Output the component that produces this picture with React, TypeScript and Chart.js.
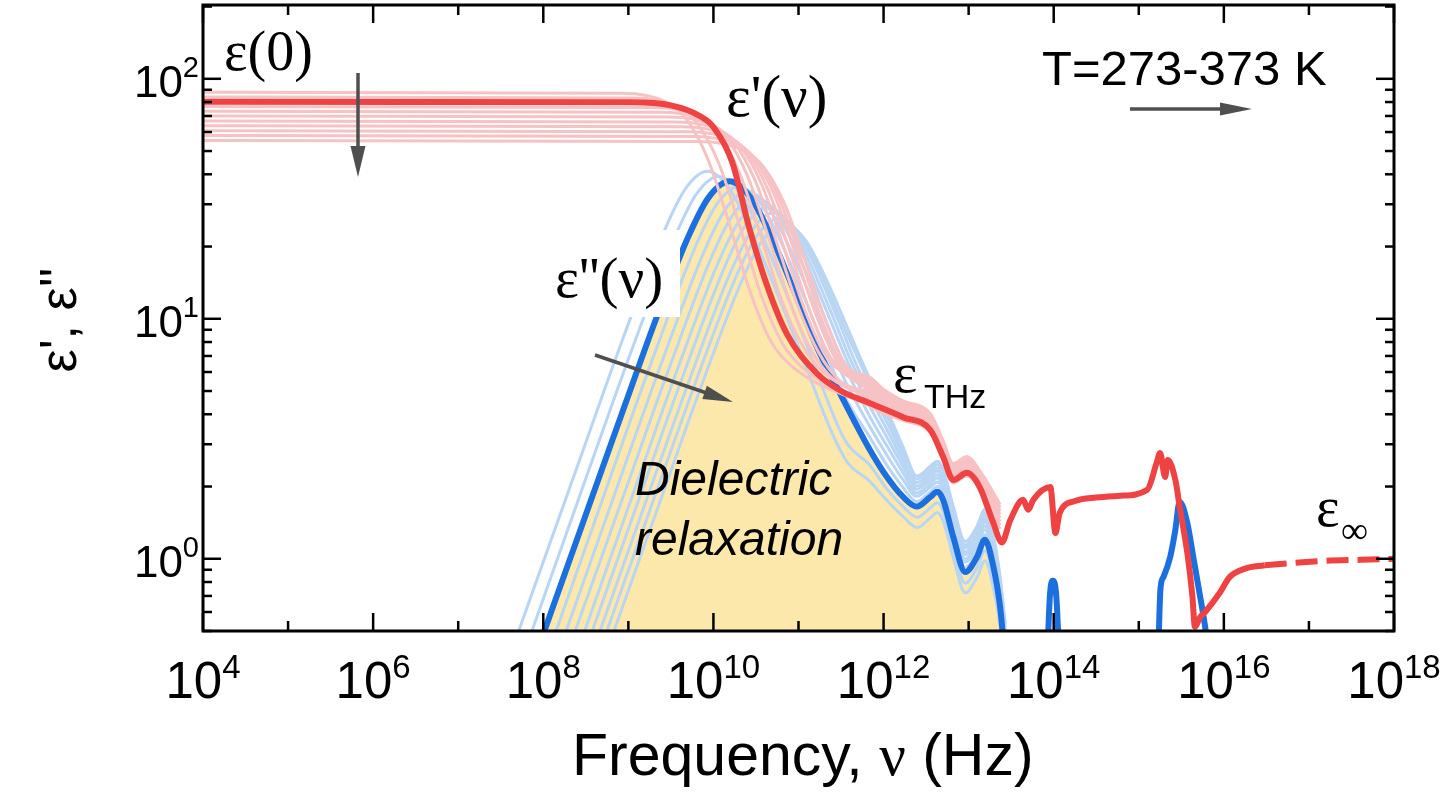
import React, { useEffect, useRef } from "react";
import { Chart, registerables } from "chart.js";

Chart.register(...registerables);

// every point: [log10(frequency / Hz), permittivity]
type Pt = [number, number];

// ---- highlighted temperature: eps' (bold red) ----
const epsRealBold: Pt[] = [
  [4, 80.2], [9.0, 79.8], [9.5, 77.5], [9.84, 70], [10.0, 63], [10.22, 45], [10.42, 24],
  [10.62, 14.1], [10.86, 8.7], [11.22, 5.9], [11.5, 5.0], [11.84, 4.45], [12.23, 3.89],
  [12.55, 3.44], [12.70, 2.66], [12.82, 2.13], [12.98, 2.28], [13.13, 1.99], [13.29, 1.41],
  [13.39, 1.17], [13.49, 1.45], [13.64, 1.76], [13.70, 1.60], [13.76, 1.76], [13.96, 1.99],
  [14.02, 1.28], [14.07, 1.55], [14.25, 1.74], [14.50, 1.80], [14.78, 1.83], [15.10, 1.94],
  [15.21, 2.51], [15.25, 2.76], [15.31, 2.19], [15.34, 2.58], [15.43, 2.13], [15.48, 1.65],
  [15.57, 1.06], [15.63, 0.70], [15.66, 0.52], [15.72, 0.57], [15.78, 0.60], [15.95, 0.72],
  [16.07, 0.84], [16.25, 0.91], [16.48, 0.94],
];
// eps_infinity extrapolation (dashed)
const epsRealInf: Pt[] = [[16.48, 0.94], [16.8, 0.96], [17.2, 0.98], [17.6, 0.99], [18, 1.0]];

// ---- highlighted temperature: eps'' (bold blue) ----
const epsImagBold: Pt[] = [
  [7.79, 0.30], [8.69, 2.36], [9.19, 7.40], [9.44, 12.8], [9.69, 21.4], [9.94, 31.9],
  [10.19, 37.4], [10.44, 31.9], [10.69, 21.6], [10.94, 13.3], [11.19, 8.0], [11.5, 4.8],
  [11.84, 2.84], [12.04, 2.19], [12.23, 1.81], [12.39, 1.65], [12.55, 1.81], [12.63, 1.90],
  [12.70, 1.76], [12.82, 1.23], [12.96, 0.88], [13.10, 1.02], [13.19, 1.20], [13.29, 0.93],
  [13.37, 0.63], [13.40, 0.49], [13.43, 0.35],
];
const epsImagIR: Pt[] = [[13.92, 0.35], [13.955, 0.70], [13.99, 0.81], [14.03, 0.70], [14.07, 0.35]];
const epsImagUV: Pt[] = [
  [15.22, 0.30], [15.255, 0.75], [15.29, 0.84], [15.37, 1.02], [15.43, 1.32], [15.48, 1.73],
  [15.57, 1.41], [15.64, 1.02], [15.72, 0.70], [15.78, 0.52], [15.82, 0.40],
];

// ---- eps' at the other temperatures (pink) ----
const epsReal273: Pt[] = [[4, 87.9], [8.93, 87.1], [9.43, 80.4], [9.68, 68.1], [9.93, 46.7], [10.18, 25.3], [10.43, 13.0], [10.68, 8.0], [10.93, 6.3], [11.84, 4.32], [12.0, 4.03], [12.23, 3.77], [12.55, 3.34], [12.70, 2.58], [12.82, 2.07], [12.98, 2.21], [13.13, 1.93], [13.29, 1.33], [13.37, 1.18]];
const epsReal283: Pt[] = [[4, 83.9], [9.06, 83.1], [9.56, 76.8], [9.81, 65.1], [10.06, 44.7], [10.31, 24.3], [10.56, 12.6], [10.81, 7.9], [11.06, 6.2], [11.84, 4.38], [12.0, 4.09], [12.23, 3.83], [12.55, 3.39], [12.70, 2.62], [12.82, 2.10], [12.98, 2.25], [13.13, 1.96], [13.29, 1.37], [13.37, 1.21]];
const epsReal303: Pt[] = [[4, 76.6], [9.30, 75.9], [9.80, 70.1], [10.05, 59.5], [10.30, 41.1], [10.55, 22.6], [10.80, 12.0], [11.05, 7.7], [11.30, 5.95], [11.84, 4.64], [12.0, 4.29], [12.23, 4.01], [12.55, 3.54], [12.70, 2.74], [12.82, 2.19], [12.98, 2.35], [13.13, 2.05], [13.29, 1.49], [13.37, 1.33]];
const epsReal313: Pt[] = [[4, 73.2], [9.40, 72.5], [9.90, 67.0], [10.15, 57.0], [10.40, 39.4], [10.65, 21.7], [10.90, 11.7], [11.15, 7.4], [11.40, 5.65], [11.84, 4.76], [12.0, 4.39], [12.23, 4.08], [12.55, 3.61], [12.70, 2.79], [12.82, 2.24], [12.98, 2.39], [13.13, 2.09], [13.29, 1.55], [13.37, 1.38]];
const epsReal323: Pt[] = [[4, 69.9], [9.49, 69.3], [9.99, 64.0], [10.24, 54.4], [10.49, 37.7], [10.74, 21.0], [10.99, 11.35], [11.24, 7.2], [11.49, 5.5], [11.84, 4.89], [12.0, 4.49], [12.23, 4.16], [12.55, 3.68], [12.70, 2.85], [12.82, 2.28], [12.98, 2.44], [13.13, 2.13], [13.29, 1.61], [13.37, 1.43]];
const epsReal333: Pt[] = [[4, 66.7], [9.57, 66.1], [10.07, 61.1], [10.32, 52.0], [10.57, 36.1], [10.82, 20.2], [11.07, 11.0], [11.32, 7.0], [11.57, 5.8], [11.84, 5.02], [12.0, 4.58], [12.23, 4.24], [12.55, 3.75], [12.70, 2.90], [12.82, 2.32], [12.98, 2.49], [13.13, 2.17], [13.29, 1.66], [13.37, 1.48]];
const epsReal343: Pt[] = [[4, 63.7], [9.64, 63.1], [10.14, 58.4], [10.39, 49.7], [10.64, 34.6], [10.89, 19.5], [11.14, 10.6], [11.39, 6.8], [11.64, 5.75], [11.84, 5.18], [12.0, 4.70], [12.23, 4.32], [12.55, 3.82], [12.70, 2.95], [12.82, 2.36], [12.98, 2.53], [13.13, 2.21], [13.29, 1.72], [13.37, 1.53]];
const epsReal353: Pt[] = [[4, 60.8], [9.71, 60.2], [10.21, 55.8], [10.46, 47.5], [10.71, 33.2], [10.96, 18.8], [11.21, 10.3], [11.46, 6.6], [11.71, 5.7], [11.84, 5.35], [12.0, 4.81], [12.23, 4.40], [12.55, 3.89], [12.70, 3.01], [12.82, 2.41], [12.98, 2.58], [13.13, 2.25], [13.29, 1.78], [13.37, 1.58]];
const epsReal363: Pt[] = [[4, 58.0], [9.77, 57.5], [10.27, 53.2], [10.52, 45.4], [10.77, 31.8], [11.02, 18.1], [11.27, 9.95], [11.52, 6.4], [11.84, 5.52], [12.0, 4.93], [12.23, 4.47], [12.55, 3.96], [12.70, 3.06], [12.82, 2.45], [12.98, 2.62], [13.13, 2.29], [13.29, 1.83], [13.37, 1.63]];
const epsReal373: Pt[] = [[4, 55.3], [9.83, 54.8], [10.33, 50.8], [10.58, 43.3], [10.83, 30.4], [11.08, 17.4], [11.33, 9.6], [11.58, 6.25], [11.84, 5.71], [12.0, 5.07], [12.23, 4.55], [12.55, 4.02], [12.70, 3.11], [12.82, 2.49], [12.98, 2.67], [13.13, 2.33], [13.29, 1.89], [13.37, 1.68]];

// ---- eps'' at the other temperatures (light blue) ----
const epsImag273: Pt[] = [[7.53, 0.33], [8.43, 2.60], [8.93, 8.16], [9.43, 23.6], [9.68, 35.2], [9.93, 41.2], [10.18, 35.2], [10.43, 23.8], [10.68, 14.7], [10.93, 8.8], [11.55, 2.6], [11.84, 2.1], [12.04, 1.75], [12.23, 1.5], [12.39, 1.35], [12.55, 1.48], [12.63, 1.56], [12.70, 1.44], [12.82, 1.01], [12.96, 0.72], [13.10, 0.84], [13.19, 0.98], [13.29, 0.76], [13.37, 0.52], [13.43, 0.33]];
const epsImag283: Pt[] = [[7.66, 0.31], [8.56, 2.48], [9.06, 7.76], [9.56, 22.5], [9.81, 33.5], [10.06, 39.2], [10.31, 33.5], [10.56, 22.7], [10.81, 14.0], [11.06, 8.4], [11.55, 3.1], [11.84, 2.45], [12.04, 1.95], [12.23, 1.65], [12.39, 1.49], [12.55, 1.63], [12.63, 1.71], [12.70, 1.58], [12.82, 1.11], [12.96, 0.79], [13.10, 0.92], [13.19, 1.08], [13.29, 0.84], [13.37, 0.57], [13.43, 0.36]];
const epsImag303: Pt[] = [[7.90, 0.28], [8.80, 2.25], [9.30, 7.04], [9.80, 20.4], [10.05, 30.4], [10.30, 35.6], [10.55, 30.4], [10.80, 20.6], [11.05, 12.7], [11.30, 7.6], [11.55, 4.7], [11.84, 3.2], [12.04, 2.45], [12.23, 1.98], [12.39, 1.73], [12.55, 1.90], [12.63, 2.0], [12.70, 1.85], [12.82, 1.29], [12.96, 0.92], [13.10, 1.07], [13.19, 1.26], [13.29, 0.98], [13.37, 0.66], [13.43, 0.42]];
const epsImag313: Pt[] = [[8.00, 0.27], [8.90, 2.14], [9.40, 6.70], [9.90, 19.4], [10.15, 28.9], [10.40, 33.9], [10.65, 28.9], [10.90, 19.6], [11.15, 12.1], [11.40, 7.3], [11.55, 5.5], [11.84, 3.55], [12.04, 2.7], [12.23, 2.13], [12.39, 1.82], [12.55, 1.99], [12.63, 2.09], [12.70, 1.94], [12.82, 1.35], [12.96, 0.97], [13.10, 1.12], [13.19, 1.32], [13.29, 1.02], [13.37, 0.69], [13.43, 0.44]];
const epsImag323: Pt[] = [[8.09, 0.26], [8.99, 2.04], [9.49, 6.38], [9.99, 18.5], [10.24, 27.5], [10.49, 32.2], [10.74, 27.5], [10.99, 18.7], [11.24, 11.6], [11.49, 7.0], [11.84, 3.9], [12.04, 2.95], [12.23, 2.28], [12.39, 1.88], [12.55, 2.06], [12.63, 2.17], [12.70, 2.01], [12.82, 1.40], [12.96, 1.0], [13.10, 1.16], [13.19, 1.37], [13.29, 1.06], [13.37, 0.72], [13.43, 0.46]];
const epsImag333: Pt[] = [[8.17, 0.24], [9.07, 1.93], [9.57, 6.06], [10.07, 17.6], [10.32, 26.1], [10.57, 30.6], [10.82, 26.1], [11.07, 17.8], [11.32, 11.0], [11.57, 6.7], [11.84, 4.3], [12.04, 3.2], [12.23, 2.42], [12.39, 1.95], [12.55, 2.14], [12.63, 2.24], [12.70, 2.08], [12.82, 1.45], [12.96, 1.04], [13.10, 1.20], [13.19, 1.42], [13.29, 1.10], [13.37, 0.74], [13.43, 0.47]];
const epsImag343: Pt[] = [[8.24, 0.23], [9.14, 1.84], [9.64, 5.76], [10.14, 16.7], [10.39, 24.9], [10.64, 29.1], [10.89, 24.9], [11.14, 16.9], [11.39, 10.5], [11.64, 6.4], [11.84, 4.7], [12.04, 3.45], [12.23, 2.55], [12.39, 2.01], [12.55, 2.21], [12.63, 2.32], [12.70, 2.15], [12.82, 1.50], [12.96, 1.07], [13.10, 1.24], [13.19, 1.46], [13.29, 1.13], [13.37, 0.77], [13.43, 0.49]];
const epsImag353: Pt[] = [[8.31, 0.22], [9.21, 1.75], [9.71, 5.47], [10.21, 15.9], [10.46, 23.6], [10.71, 27.7], [10.96, 23.6], [11.21, 16.1], [11.46, 10.0], [11.71, 6.1], [11.84, 5.05], [12.04, 3.7], [12.23, 2.68], [12.39, 2.08], [12.55, 2.28], [12.63, 2.39], [12.70, 2.22], [12.82, 1.55], [12.96, 1.11], [13.10, 1.29], [13.19, 1.51], [13.29, 1.17], [13.37, 0.79], [13.43, 0.50]];
const epsImag363: Pt[] = [[8.37, 0.21], [9.27, 1.66], [9.77, 5.20], [10.27, 15.1], [10.52, 22.4], [10.77, 26.3], [11.02, 22.4], [11.27, 15.3], [11.52, 9.5], [11.84, 5.35], [12.04, 3.95], [12.23, 2.8], [12.39, 2.15], [12.55, 2.35], [12.63, 2.47], [12.70, 2.29], [12.82, 1.60], [12.96, 1.14], [13.10, 1.33], [13.19, 1.56], [13.29, 1.21], [13.37, 0.82], [13.43, 0.52]];
const epsImag373: Pt[] = [[8.43, 0.20], [9.33, 1.57], [9.83, 4.93], [10.33, 14.3], [10.58, 21.3], [10.83, 24.9], [11.08, 21.3], [11.33, 14.5], [11.58, 9.1], [11.84, 5.6], [12.04, 4.15], [12.23, 2.92], [12.39, 2.21], [12.55, 2.43], [12.63, 2.55], [12.70, 2.36], [12.82, 1.65], [12.96, 1.18], [13.10, 1.37], [13.19, 1.61], [13.29, 1.25], [13.37, 0.84], [13.43, 0.54]];

const epsRealFamily = [epsReal273, epsReal283, epsReal303, epsReal313, epsReal323, epsReal333, epsReal343, epsReal353, epsReal363, epsReal373];
const epsImagFamily = [epsImag273, epsImag283, epsImag303, epsImag313, epsImag323, epsImag333, epsImag343, epsImag353, epsImag363, epsImag373];

// axes
const xTickExps = [4, 5, 6, 7, 8, 9, 10, 11, 12, 13, 14, 15, 16, 17, 18];
const xLabelExps = [4, 6, 8, 10, 12, 14, 16, 18];
const yDecadeExps = [-1, 0, 1, 2];
const yLabelExps = [0, 1, 2];
const yMantissas = [1, 2, 3, 4, 5, 6, 7, 8, 9];
const X_MIN = 1e4, X_MAX = 1e18, Y_MIN = 0.5, Y_MAX = 203;

const RED = "#ef4242";
const PINK = "#f7c2c4";
const BLUE = "#1b6fde";
const LIGHTBLUE = "#b9d5f4";
const YELLOW = "#fde8ab";
const ARROW = "#4f4f4f";
const SANS = '"Liberation Sans", Arial, Helvetica, sans-serif';
const SERIF = '"Liberation Serif", "Times New Roman", serif';

const toXY = (pts: Pt[]) => pts.map(([e, v]) => ({ x: Math.pow(10, e), y: v }));

function arrow(ctx: CanvasRenderingContext2D, x1: number, y1: number, x2: number, y2: number, head: number, half: number) {
  const a = Math.atan2(y2 - y1, x2 - x1);
  const c = Math.cos(a), s = Math.sin(a);
  ctx.beginPath();
  ctx.moveTo(x1, y1);
  ctx.lineTo(x2 - c * head * 0.8, y2 - s * head * 0.8);
  ctx.stroke();
  const bx = x2 - c * head, by = y2 - s * head;
  ctx.beginPath();
  ctx.moveTo(x2, y2);
  ctx.lineTo(bx - s * half, by + c * half);
  ctx.lineTo(bx + s * half, by - c * half);
  ctx.closePath();
  ctx.fill();
}

function pow10Label(ctx: CanvasRenderingContext2D, exp: number, x: number, base: number, size: number, sup: number, rise: number, align: "center" | "right") {
  ctx.font = `${size}px ${SANS}`;
  const w1 = ctx.measureText("10").width;
  ctx.font = `${sup}px ${SANS}`;
  const w2 = ctx.measureText(String(exp)).width;
  const left = align === "center" ? x - (w1 + w2) / 2 : x - (w1 + w2);
  ctx.textAlign = "left";
  ctx.font = `${size}px ${SANS}`;
  ctx.fillText("10", left, base);
  ctx.font = `${sup}px ${SANS}`;
  ctx.fillText(String(exp), left + w1, base - rise);
}

const overlay = {
  id: "overlay",
  afterDatasetsDraw(chart: any) {
    const ctx: CanvasRenderingContext2D = chart.ctx;
    const a = chart.chartArea;
    const xs = chart.scales.x, ys = chart.scales.y;
    ctx.save();
    // white box behind the eps'' label
    ctx.fillStyle = "#ffffff";
    ctx.fillRect(552, 230, 128, 87);

    ctx.strokeStyle = "#000";
    ctx.fillStyle = "#000";
    ctx.lineCap = "butt";
    // ticks
    ctx.lineWidth = 2.5;
    const seg = (x1: number, y1: number, x2: number, y2: number) => {
      ctx.beginPath(); ctx.moveTo(x1, y1); ctx.lineTo(x2, y2); ctx.stroke();
    };
    for (const e of xTickExps) {
      const px = xs.getPixelForValue(Math.pow(10, e));
      const len = e % 2 === 0 ? 18 : 10;
      seg(px, a.bottom, px, a.bottom - len);
      seg(px, a.top, px, a.top + len);
    }
    for (const d of yDecadeExps) {
      for (const m of yMantissas) {
        const v = m * Math.pow(10, d);
        if (v < Y_MIN || v > Y_MAX) continue;
        const py = ys.getPixelForValue(v);
        const len = m === 1 ? 18 : 9;
        seg(a.left, py, a.left + len, py);
        seg(a.right, py, a.right - len, py);
      }
    }
    // frame
    ctx.lineWidth = 3;
    ctx.strokeRect(a.left, a.top, a.right - a.left, a.bottom - a.top);

    // tick labels
    ctx.textBaseline = "alphabetic";
    for (const e of xLabelExps) {
      const px = xs.getPixelForValue(Math.pow(10, e));
      pow10Label(ctx, e, px, 698, 51, 33, 20, "center");
    }
    for (const e of yLabelExps) {
      const py = ys.getPixelForValue(Math.pow(10, e));
      pow10Label(ctx, e, 199, py + 18, 44, 29, 20, "right");
    }

    // axis titles
    ctx.textAlign = "left";
    let tx = 572;
    ctx.font = `59px ${SANS}`;
    ctx.fillText("Frequency, ", tx, 775);
    tx += ctx.measureText("Frequency, ").width;
    ctx.font = `59px ${SERIF}`;
    ctx.fillText("\u03BD", tx, 775);
    tx += ctx.measureText("\u03BD").width;
    ctx.font = `59px ${SANS}`;
    ctx.fillText(" (Hz)", tx, 775);

    ctx.save();
    ctx.translate(76, 320);
    ctx.rotate(-Math.PI / 2);
    ctx.textAlign = "center";
    ctx.font = `52px ${SANS}`;
    ctx.fillText("\u03B5', \u03B5''", 0, 0);
    ctx.restore();

    // annotations
    ctx.textAlign = "left";
    ctx.font = `56px ${SERIF}`;
    ctx.fillText("\u03B5(0)", 224, 70);
    ctx.font = `59px ${SERIF}`;
    ctx.fillText("\u03B5'(\u03BD)", 726, 116);
    ctx.font = `57px ${SERIF}`;
    ctx.fillText("\u03B5''(\u03BD)", 555, 297);
    ctx.font = `58px ${SERIF}`;
    ctx.fillText("\u03B5", 893, 392);
    ctx.font = `34px ${SANS}`;
    ctx.fillText("THz", 924, 408);
    ctx.font = `56px ${SERIF}`;
    ctx.fillText("\u03B5", 1316, 526);
    ctx.font = `38px ${SERIF}`;
    ctx.fillText("\u221E", 1341, 543);
    ctx.font = `italic 48px ${SANS}`;
    ctx.fillText("Dielectric", 635, 495);
    ctx.fillText("relaxation", 635, 555);
    ctx.font = `49px ${SANS}`;
    ctx.fillText("T=273-373 K", 1042, 85);

    // arrows
    ctx.strokeStyle = ARROW;
    ctx.fillStyle = ARROW;
    ctx.lineWidth = 3.5;
    arrow(ctx, 358, 73, 358, 177, 31, 7.5);
    arrow(ctx, 595, 355, 733, 402, 30, 7);
    arrow(ctx, 1130, 109, 1252, 109, 32, 6.5);
    ctx.restore();
  },
};

export default function App() {
  const ref = useRef<HTMLCanvasElement | null>(null);
  useEffect(() => {
    if (!ref.current) return;
    const line = (pts: Pt[], color: string, width: number, order: number, extra: any = {}) => ({
      data: toXY(pts),
      borderColor: color,
      backgroundColor: color,
      borderWidth: width,
      pointRadius: 0,
      cubicInterpolationMode: "monotone",
      fill: false,
      clip: 0,
      order,
      ...extra,
    });
    const datasets: any[] = [
      line(epsRealBold, RED, 6, 0),
      line(epsRealInf, RED, 6, 0, { borderDash: [22, 9] }),
      ...epsRealFamily.map((p) => line(p, PINK, 3, 1)),
      line(epsImagBold, BLUE, 6, 2),
      line(epsImagIR, BLUE, 6, 2),
      line(epsImagUV, BLUE, 6, 2),
      ...epsImagFamily.map((p) => line(p, LIGHTBLUE, 3, 3)),
      line(epsImagBold, YELLOW, 0, 4, { fill: "start", backgroundColor: YELLOW, borderColor: "rgba(0,0,0,0)" }),
    ];
    const chart = new Chart(ref.current, {
      type: "line",
      data: { datasets },
      options: {
        responsive: false,
        animation: false,
        devicePixelRatio: 1,
        parsing: true,
        layout: { padding: { left: 203, right: 51, top: 5, bottom: 167 } },
        scales: {
          x: { type: "logarithmic", min: X_MIN, max: X_MAX, display: false },
          y: { type: "logarithmic", min: Y_MIN, max: Y_MAX, display: false },
        },
        plugins: {
          legend: { display: false },
          tooltip: { enabled: false },
          filler: { drawTime: "beforeDatasetsDraw" },
        },
        events: [],
      } as any,
      plugins: [overlay],
    });
    return () => chart.destroy();
  }, []);
  return (
    <div style={{ position: "absolute", left: 0, top: 0, width: 1445, height: 798, background: "#fff" }}>
      <canvas ref={ref} width={1445} height={798} style={{ display: "block" }} />
    </div>
  );
}
